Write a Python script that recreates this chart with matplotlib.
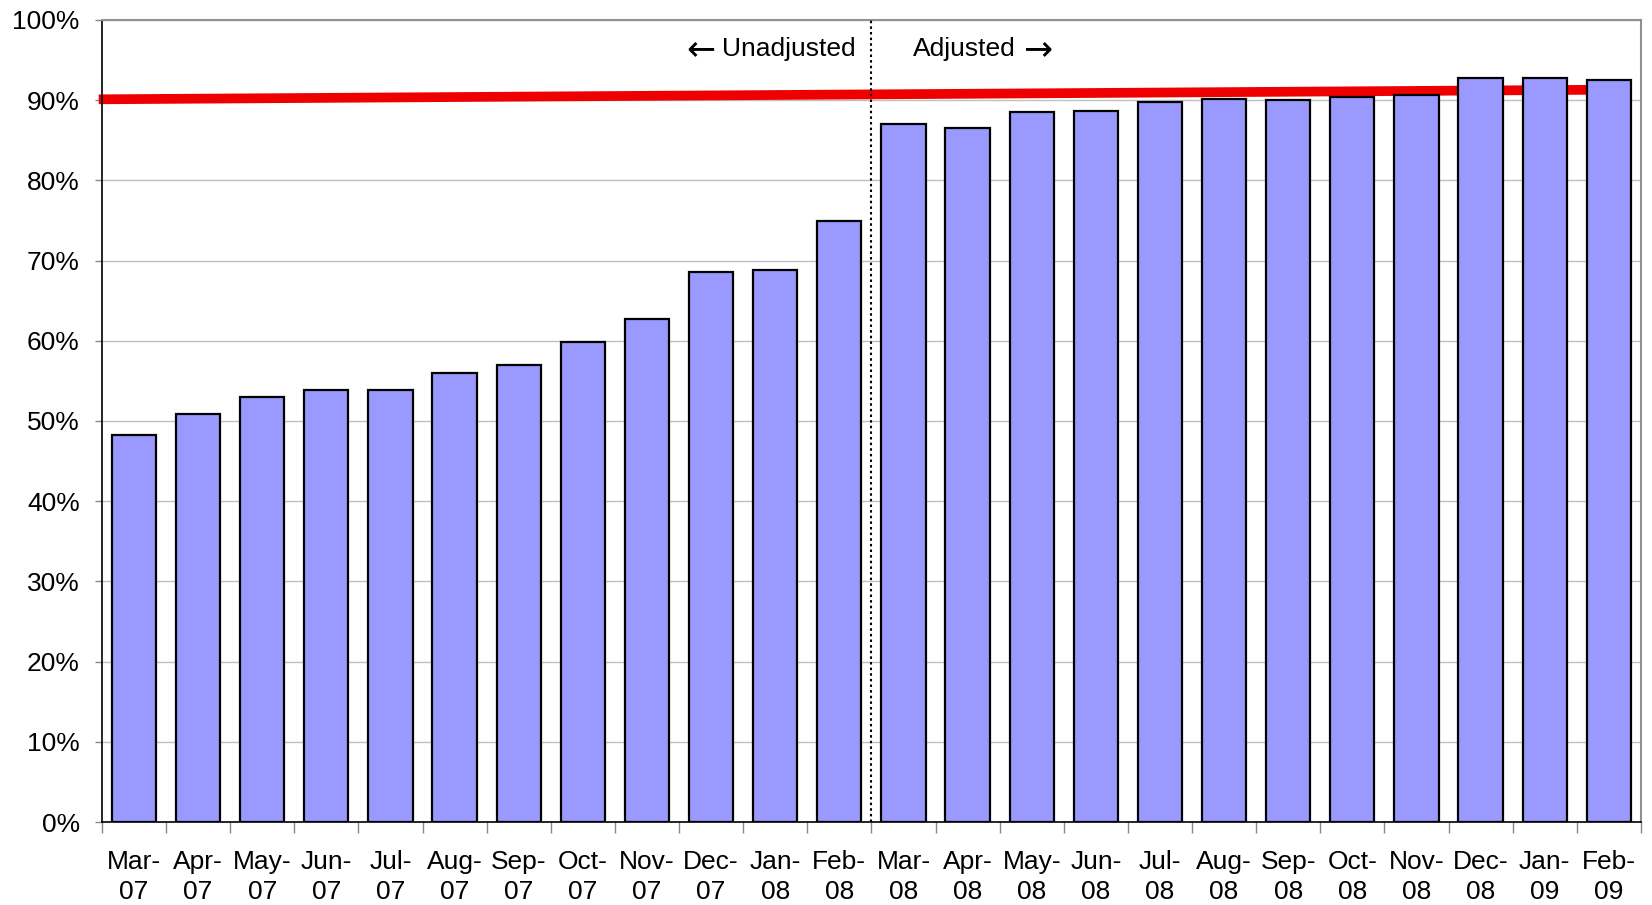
import matplotlib.pyplot as plt
import numpy as np

plt.rcParams['font.family'] = ['Liberation Sans', 'DejaVu Sans']

months = ["Mar-\n07", "Apr-\n07", "May-\n07", "Jun-\n07", "Jul-\n07", "Aug-\n07",
          "Sep-\n07", "Oct-\n07", "Nov-\n07", "Dec-\n07", "Jan-\n08", "Feb-\n08",
          "Mar-\n08", "Apr-\n08", "May-\n08", "Jun-\n08", "Jul-\n08", "Aug-\n08",
          "Sep-\n08", "Oct-\n08", "Nov-\n08", "Dec-\n08", "Jan-\n09", "Feb-\n09"]
values = [48.3, 50.9, 53.0, 53.9, 53.9, 56.0, 57.0, 59.8, 62.7, 68.6, 68.8, 74.9,
          87.0, 86.5, 88.5, 88.7, 89.8, 90.2, 90.0, 90.4, 90.6, 92.7, 92.8, 92.5]
# target line, start and end
target_x = [-0.55, 23.0]
target_y = [90.1, 91.3]
split_at = 11.5

fig = plt.figure(figsize=(16.52, 9.05), dpi=100)
ax = fig.add_subplot(111)
plt.subplots_adjust(left=0.0617, right=0.9933, bottom=0.0917, top=0.978)

x = np.arange(len(values))
ax.plot(target_x, target_y, color="#EE0000", linewidth=7, solid_capstyle="butt",
        zorder=2, clip_on=False)
ax.bar(x, values, width=0.69, color="#9999FF", edgecolor="black", linewidth=1.6, zorder=3)
ax.axvline(split_at, color="black", linestyle=(0, (1.2, 1.5)), linewidth=1.5, zorder=4)

ax.set_xlim(-0.5, len(values) - 0.5)
ax.set_ylim(0, 100)
ax.set_yticks(np.arange(0, 101, 10))
ax.set_yticklabels(["{}%".format(v) for v in range(0, 101, 10)], fontsize=19)
ax.yaxis.grid(True, color="#C0C0C0", linewidth=1)
ax.set_axisbelow(True)

ax.set_xticks(x)
ax.set_xticklabels(months, fontsize=19, linespacing=1.32)
ax.set_xticks(np.arange(-0.5, len(values), 1), minor=True)
ax.tick_params(axis="x", which="major", length=0, pad=20)
ax.tick_params(axis="x", which="minor", length=8, width=1, color="#888888")
ax.tick_params(axis="y", length=5, width=1, pad=11, color="#888888")

for side in ["top", "right"]:
    ax.spines[side].set_color("#909090")
    ax.spines[side].set_linewidth(1.5)
ax.spines["left"].set_color("black")
ax.spines["bottom"].set_color("black")
ax.spines["left"].set_linewidth(1.2)
ax.spines["bottom"].set_linewidth(1.2)

# section labels, arrows in DejaVu for a wider glyph
ax.text(11.26, 96.4, "Unadjusted", ha="right", va="center", fontsize=19)
ax.text(8.84, 96.4, "\u2190", ha="center", va="center", fontsize=25,
        family="DejaVu Sans")
ax.text(12.14, 96.4, "Adjusted", ha="left", va="center", fontsize=19)
ax.text(14.09, 96.4, "\u2192", ha="center", va="center", fontsize=25,
        family="DejaVu Sans")

plt.savefig("out.png", dpi=100)
